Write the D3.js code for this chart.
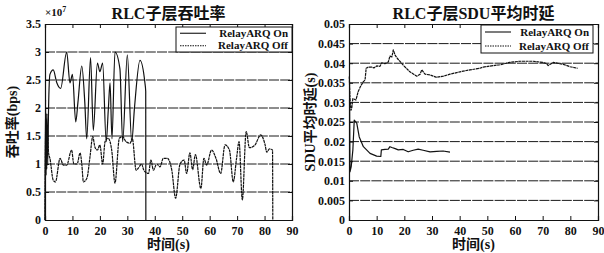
<!DOCTYPE html>
<html><head><meta charset="utf-8">
<script src="https://cdn.jsdelivr.net/npm/d3@7"></script>
<style>
html,body{margin:0;padding:0;background:#fff;}
svg{display:block;}
</style></head>
<body>
<svg id="chart" width="604" height="253"></svg>
<script>
// ---------- DATA ----------
const xTicks = [0,10,20,30,40,50,60,70,80,90];
const thrTicks = [0,0.5,1,1.5,2,2.5,3,3.5];
const delayTicks = [0,0.005,0.01,0.015,0.02,0.025,0.03,0.035,0.04,0.045,0.05];
const seriesNames = ["RelayARQ On","RelayARQ Off"];
const titles = ["RLC子层吞吐率","RLC子层SDU平均时延"];
const yLabels = ["吞吐率(bps)","SDU平均时延(s)"];
const xLabel = "时间(s)";

// throughput (x10^7 bps), [time s, value]
const thrOn = [[0,0],[0.2,2.15],[0.4,0.8],[0.7,1.9],[1.0,1.0],[1.3,2.0],[1.8,2.6],[3.0,2.68],[4.3,2.45],[5.7,2.35],[7.9,3.0],[9.1,2.45],[10.0,2.6],[11.2,1.75],[12.0,2.1],[13.4,2.75],[14.5,2.1],[15.2,1.45],[16.6,2.9],[17.6,1.6],[19.1,2.8],[20.0,2.65],[21.0,2.8],[22.3,1.4],[23.1,2.0],[23.7,2.45],[24.4,1.45],[25.5,3.0],[27.3,2.7],[28.3,1.4],[30.0,2.95],[31.6,1.4],[32.6,2.0],[34.6,2.85],[36.4,2.45],[36.7,2.3],[36.75,0]];
const thrOff = [[0,0],[0.3,1.8],[0.6,0.9],[0.9,1.6],[1.3,1.2],[1.8,1.1],[3.0,0.71],[3.8,0.68],[5.5,1.1],[6.7,0.98],[7.9,0.98],[9.7,1.25],[10.5,1.0],[11.7,1.0],[12.8,1.2],[13.4,1.0],[14.0,0.68],[15.3,0.75],[16.4,1.13],[17.4,1.49],[18.2,1.3],[19.1,1.25],[20.0,1.34],[21.0,1.0],[21.9,1.4],[23.0,1.46],[24.3,1.25],[25.5,0.66],[27.1,1.46],[28.3,1.49],[29.5,1.4],[31.0,1.37],[31.8,1.46],[33.2,0.89],[33.9,0.92],[35.2,1.0],[36.0,0.89],[37.7,0.83],[38.6,1.07],[39.5,0.89],[40.7,1.0],[41.9,0.95],[43.1,1.1],[44.6,1.1],[46.2,0.89],[47.6,0.39],[49.2,1.0],[50.7,1.07],[51.6,0.83],[52.8,1.2],[53.8,0.9],[54.8,1.17],[56.8,0.56],[57.9,1.1],[58.9,0.98],[60.7,1.25],[62.3,1.1],[64.0,0.83],[65.6,1.34],[67.2,1.25],[68.6,0.68],[69.8,1.1],[70.7,1.4],[71.9,0.36],[73.3,1.58],[74.5,1.29],[76.5,1.34],[78.6,1.52],[80.2,1.34],[80.8,1.21],[81.8,1.27],[82.9,1.25],[83.0,0]];

// mean SDU delay (s), [time s, value]
const delayOn = [[0.2,0.0306],[0.35,0.0123],[0.8,0.0136],[1.4,0.0179],[1.9,0.0255],[2.8,0.0247],[3.7,0.0212],[5.2,0.0187],[7.6,0.017],[10,0.0163],[11.5,0.0162],[11.7,0.0179],[13,0.018],[14.2,0.0181],[14.8,0.0187],[15.5,0.0185],[16.7,0.0182],[17.8,0.0179],[19.6,0.018],[21.4,0.0174],[23.2,0.0178],[25,0.0181],[26.8,0.0178],[29.3,0.0174],[31.7,0.0175],[34,0.0176],[36.5,0.0173]];
const delayOff = [[0.1,0.0366],[0.4,0.0306],[0.7,0.028],[1.0,0.0286],[1.4,0.031],[2.5,0.0306],[3.3,0.0327],[4.1,0.034],[5.2,0.0353],[5.8,0.0357],[6.2,0.0387],[7.0,0.039],[8.2,0.039],[9,0.0388],[10,0.0393],[11.2,0.0392],[11.8,0.0401],[13,0.0399],[14.2,0.0403],[14.8,0.0418],[15.5,0.0416],[16,0.0434],[16.7,0.042],[17.5,0.0412],[19.6,0.0395],[22,0.0378],[24.5,0.0367],[25.7,0.0372],[26.3,0.0383],[27.5,0.0372],[29.3,0.037],[31.7,0.0364],[34.1,0.0367],[36.5,0.0372],[40.1,0.0378],[43.7,0.0383],[47.3,0.0387],[48.5,0.039],[52.2,0.0394],[54.6,0.0396],[58,0.0402],[61.8,0.0405],[66.6,0.0405],[70,0.0402],[71.4,0.0399],[72,0.0394],[73.8,0.0402],[77.5,0.0397],[79.9,0.0391],[82.6,0.0387]];

// ---------- DRAW ----------
const svg = d3.select("#chart");
const INK = "#111";
const serif = "'Liberation Serif','DejaVu Serif',serif";
const cjk = "'Liberation Serif','Noto Sans CJK SC',serif";

function panel(opts){
  const {x0,x1,y0,y1,yDomain,yTicks,yFmt,series,title,ylabel,ylabelX,legendBox,curve} = opts;
  const x = d3.scaleLinear().domain([0,90]).range([x0,x1]);
  const y = d3.scaleLinear().domain(yDomain).range([y1,y0]);
  const g = svg.append("g");

  // horizontal grid
  g.selectAll("line.grid").data(yTicks.slice(1,-1)).enter().append("line")
    .attr("x1",x0).attr("x2",x1).attr("y1",d=>y(d)).attr("y2",d=>y(d))
    .attr("stroke","#1a1a1a").attr("stroke-width",1).attr("stroke-dasharray","10,1.2");

  // axes
  const ax = d3.axisBottom(x).tickValues(xTicks).tickSize(-4).tickPadding(6).tickFormat(d3.format("d"));
  const axT = d3.axisTop(x).tickValues(xTicks).tickSize(-4).tickFormat("");
  const ay = d3.axisLeft(y).tickValues(yTicks).tickSize(-4).tickPadding(4).tickFormat(yFmt);
  const ayR = d3.axisRight(y).tickValues(yTicks).tickSize(-4).tickFormat("");
  g.append("g").attr("transform",`translate(0,${y1})`).call(ax);
  g.append("g").attr("transform",`translate(0,${y0})`).call(axT);
  g.append("g").attr("transform",`translate(${x0},0)`).call(ay);
  g.append("g").attr("transform",`translate(${x1},0)`).call(ayR);
  g.selectAll(".domain").attr("stroke",INK).attr("stroke-width",1.2);
  g.selectAll(".tick line").attr("stroke",INK);
  g.selectAll(".tick text").attr("fill",INK).style("font-family",serif)
    .style("font-size","12px").style("font-weight","bold");

  // series
  const line = d3.line().curve(curve).x(d=>x(d[0])).y(d=>y(d[1]));
  series.forEach((s,i)=>{
    g.append("path").datum(s).attr("d",line).attr("fill","none")
      .attr("stroke",INK).attr("stroke-width",1.2)
      .attr("stroke-linejoin","round")
      .attr("stroke-dasharray", i===1 ? "3,0.6" : null);
  });

  // title
  g.append("text").attr("x",(x0+x1)/2).attr("y",19).attr("text-anchor","middle")
    .style("font-family",cjk).style("font-size","16px").style("font-weight","bold")
    .attr("fill",INK).text(title);
  // x label
  g.append("text").attr("x",(x0+x1)/2).attr("y",249).attr("text-anchor","middle")
    .style("font-family",cjk).style("font-size","14px").style("font-weight","bold")
    .attr("fill",INK).text(xLabel);
  // y label
  g.append("text").attr("transform",`translate(${ylabelX},${(y0+y1)/2}) rotate(-90)`)
    .attr("text-anchor","middle").attr("dy","0.35em")
    .style("font-family",cjk).style("font-size","14px").style("font-weight","bold")
    .attr("fill",INK).text(ylabel);

  // legend
  const [lx0,ly0,lx1,ly1] = legendBox;
  const lg = g.append("g");
  lg.append("rect").attr("x",lx0).attr("y",ly0).attr("width",lx1-lx0).attr("height",ly1-ly0)
    .attr("fill","#fff").attr("stroke",INK).attr("stroke-width",1);
  const step = (ly1-ly0)/2;
  seriesNames.forEach((n,i)=>{
    const yy = ly0 + step*(i+0.5);
    lg.append("line").attr("x1",lx0+4).attr("x2",lx0+30).attr("y1",yy).attr("y2",yy)
      .attr("stroke",INK).attr("stroke-width",1.1).attr("stroke-dasharray", i===1?"1.5,1":null);
    lg.append("text").attr("x",lx1-4).attr("y",yy).attr("dy","0.33em").attr("text-anchor","end")
      .style("font-family",serif).style("font-size","11px").style("font-weight","bold")
      .attr("fill",INK).text(n);
  });
  return {x,y,g};
}

panel({x0:45,x1:292,y0:24,y1:220,yDomain:[0,3.5],yTicks:thrTicks,curve:d3.curveMonotoneX,
  yFmt:d=>d3.format("")(d),series:[thrOn,thrOff],title:titles[0],ylabel:yLabels[0],
  ylabelX:12,legendBox:[176,27,292,52]});
// x10^7 multiplier
const mult = svg.append("text").attr("x",45).attr("y",16)
  .style("font-family",serif).style("font-size","11px").style("font-weight","bold").attr("fill",INK);
mult.append("tspan").text("×10");
mult.append("tspan").attr("dy","-4").style("font-size","8px").text("7");

panel({x0:349,x1:598,y0:24,y1:220,yDomain:[0,0.05],yTicks:delayTicks,curve:d3.curveLinear,
  yFmt:d=>d3.format("")(+d.toFixed(3)),series:[delayOn,delayOff],title:titles[1],ylabel:yLabels[1],
  ylabelX:310,legendBox:[481,25,593,53]});
</script>
</body></html>
